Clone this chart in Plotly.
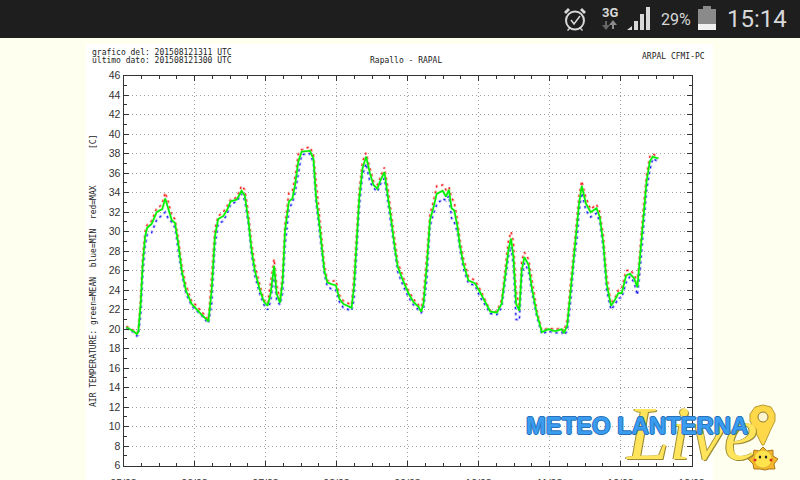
import plotly.graph_objects as go

hours = [1,3.3,4.5,5,5.8,6.5,7.3,8,9.5,11.2,
 12.3,13.1,14.1,15.2,16.3,17.4,18.5,19.7,21.1,23,
 24.7,26.4,28.7,29.8,30.9,32,33.7,35,36.2,38.3,
 39.9,41,42.2,43.3,44.4,46.1,47.5,48.7,49.7,50.9,
 51.8,52.9,53.8,54.6,55.9,57.1,58,59.1,60.2,63,
 64.2,65.1,66.2,67,67.9,68.9,70.4,71.8,73,74.3,
 76,77.1,77.9,78.8,79.7,80.8,82,83.3,84.5,85.8,
 86.9,88.2,89.3,90.5,91.6,92.7,94.6,96.3,98,99.7,
 100.6,101.4,102.5,103.6,104.7,105.9,107.9,109,110,110.9,
 111.8,112.9,113.7,114.9,116.6,118.8,120.5,122.2,124,126.2,
 127.8,129,130.1,131,131.8,132.7,133.8,134.6,135.5,136.9,
 138,139.7,141.4,143.6,145.9,148.1,148.9,150,151.2,152.3,
 153.4,154,154.9,156.3,157.9,159.9,161,162.2,163.3,164.8,
 166.1,167.3,168.4,169.9,171.2,172.6,173.7,174.6,175.7,176.8,
 177.9,178.9,180.8]
mean_t = [20.2,19.8,19.5,19.7,22.6,26.7,29.5,30.4,30.8,32,
 32.2,32.3,33.4,32.2,31.2,30.9,28.8,26,24,22.6,
 22.1,21.5,20.8,24,29.5,31.3,31.6,32.2,33.1,33.3,
 34.2,33.7,31.2,28.1,26,24,22.8,22.4,23.6,26.5,
 23.6,22.7,25,30.1,33.1,33.4,34.8,37.2,38.2,38.3,
 37.5,33.5,30.8,28.8,26,24.8,24.6,24.5,23.1,22.6,
 22.4,22.2,24.3,29.1,33.5,36.5,37.7,36,34.8,34.4,
 35.3,36.1,33.9,31.2,28.6,26.4,24.9,23.7,22.8,22.3,
 21.8,22.6,26.4,31.2,32.4,33.9,34.2,33.6,34.3,32.4,
 32.2,30.5,28.6,26.7,25,24.7,23.8,22.8,21.8,21.7,
 22.6,25.4,28.1,29.3,27.4,22.6,21.9,26,27.4,26.6,
 24.3,21.6,19.7,20,19.8,20,19.6,20.4,24,27.8,
 30.5,32.9,34.7,32.9,32,32.4,31.5,28.8,24.7,22.4,
 23,23.7,23.7,25.5,25.7,25.2,24.3,27.4,31.5,35.1,
 37.2,37.7,37.5]
max_t = [20.3,19.9,19.6,19.9,23.2,27.5,30,30.7,31.1,32.4,
 32.6,32.9,34,33,31.7,31.3,29.4,26.6,24.5,22.9,
 22.4,21.8,21,25.5,30.3,31.6,32,32.6,33.3,33.5,
 34.7,34.3,32,28.8,26.6,24.5,23,22.6,24.5,27.2,
 24.5,23,26,30.8,34,34.2,35.6,38,38.4,38.7,
 37.9,35,31.5,29.5,26.6,25,24.9,25,23.5,22.9,
 22.7,22.5,25.5,30,34.3,37.2,38.1,36.5,35.2,34.8,
 35.7,36.6,34.6,31.8,29.2,26.9,25.3,24,23.1,22.5,
 21.9,23.6,27.5,31.8,33,34.7,34.8,34.3,34.6,33.5,
 33,31.2,29.2,27.3,25.4,25,24.1,23,21.9,21.8,
 23,26.2,29,30,29,24,22.2,27,27.9,27.2,
 25,22,19.9,20.1,20,20.1,19.8,21,25,28.6,
 31.5,33.7,35.2,33.5,32.3,32.8,32,29.6,25.6,22.6,
 23.2,24,24.2,26,26.1,25.6,24.8,28.5,32.3,35.8,
 37.7,38,37.6]
min_t = [20.1,19.7,19.3,19.4,21.4,25.5,28.5,29.7,29.9,31.2,
 31.5,31.7,32,31.3,31,30.4,28.3,25.6,23.7,22.4,
 21.9,21.4,20.6,22.6,28.5,30.8,31.1,31.8,32.8,33.1,
 33.9,33.2,30.8,27.6,25.5,23.6,22.5,22,22.8,25.6,
 22.9,22.5,23.8,28.5,32.3,33,34,36,37.9,38,
 37.1,33,30.3,28.3,25.6,24.4,24.1,24,22.8,22.2,
 22,21.9,23,28,32.5,35.8,37,35.1,34.5,34.1,
 34.9,35.5,33.3,30.7,28.2,25.9,24.4,23.3,22.5,22,
 21.7,22,25,30.5,31.8,32.8,33.4,33.2,33.7,31.4,
 31,29.9,28.2,26.2,24.7,24.5,23.3,22.5,21.6,21.5,
 22.2,24.8,27.4,28.5,26.5,21,20.9,25.2,26.8,26,
 23.8,21.3,19.5,19.8,19.6,19.7,19.4,19.8,23,27,
 29.6,32,34,32.2,31.5,31.9,31,28.2,24,22,
 22.5,23.2,23.2,24.8,25.4,24.8,23.5,26,30.5,34.2,
 36.3,37.5,37.2]
day_ticks = [0,24,48,72,96,120,144,168,192]
day_labels = ["05/08","06/08","07/08","08/08","09/08","10/08","11/08","12/08","13/08"]
temp_ticks = list(range(6,47,2))

W,H = 800,480
X = lambda p: p/W
Y = lambda p: 1-p/H

fig = go.Figure()
for vals,col,pale in [(max_t,"#f01818","rgba(255,120,120,0.6)"),(min_t,"#1818f0","rgba(120,120,255,0.6)")]:
    fig.add_trace(go.Scatter(x=hours,y=vals,mode="lines",line=dict(color=pale,width=2.6,dash="3px,3px"),hoverinfo="skip"))
    fig.add_trace(go.Scatter(x=hours,y=vals,mode="lines",line=dict(color=col,width=1.1,dash="2px,4px"),hoverinfo="skip"))
fig.add_trace(go.Scatter(x=hours,y=mean_t,mode="lines",line=dict(color="rgba(120,255,120,0.5)",width=2.5),hoverinfo="skip"))
fig.add_trace(go.Scatter(x=hours,y=mean_t,mode="lines",line=dict(color="#00f000",width=1.6),hoverinfo="skip"))

axis_common = dict(showline=True,linecolor="#333333",linewidth=1,mirror="allticks",ticks="inside",
    tickcolor="#333333",tickwidth=1,ticklen=5,zeroline=False,showgrid=True,
    griddash="1px,3px",gridcolor="#a0a0a0",gridwidth=1,
    tickfont=dict(family="Liberation Sans",size=10.5,color="#333333"))
fig.update_xaxes(range=[0,192],domain=[X(123.5),X(691.5)],tickvals=day_ticks,ticktext=day_labels,automargin=False,
    ticklabelstandoff=8,minor=dict(dtick=6,tick0=0,ticks="inside",ticklen=3,tickcolor="#333333",showgrid=False),**axis_common)
fig.update_yaxes(range=[6,46],domain=[Y(465.7),Y(75.7)],tickvals=temp_ticks,automargin=False,
    minor=dict(dtick=1,tick0=0,ticks="inside",ticklen=3,tickcolor="#333333",showgrid=False),**axis_common)

shapes=[]
def rect(x0,y0,x1,y1,fill,layer="below"):
    shapes.append(dict(type="rect",xref="paper",yref="paper",x0=X(x0),x1=X(x1),y0=Y(y1),y1=Y(y0),fillcolor=fill,line_width=0,layer=layer))
def path(pts,fill,line=None,lw=0):
    d="M"+" L".join(f"{X(a):.5f},{Y(b):.5f}" for a,b in pts)+" Z"
    shapes.append(dict(type="path",xref="paper",yref="paper",path=d,fillcolor=fill,line=dict(color=line or fill,width=lw),layer="above"))
def circ(cx,cy,rx,ry,fill,line=None,lw=0):
    shapes.append(dict(type="circle",xref="paper",yref="paper",x0=X(cx-rx),x1=X(cx+rx),y0=Y(cy+ry),y1=Y(cy-ry),fillcolor=fill,line=dict(color=line or fill,width=lw),layer="above"))
rect(86,44,713,480,"#ffffff")
rect(0,0,800,38,"#1e1e1e","above")
# alarm clock
circ(575,20.5,9,9,"#1e1e1e","#d8d8d8",2)
path([(571,20),(574,24),(580,16),(574,24)],"#d8d8d8","#d8d8d8",1.5)
path([(564,12),(568,8),(570,10),(566,14)],"#d8d8d8")
path([(586,12),(582,8),(580,10),(584,14)],"#d8d8d8")
path([(567,30),(570,27),(571,28),(568,31)],"#d8d8d8")
path([(583,30),(580,27),(579,28),(582,31)],"#d8d8d8")
# data arrows
path([(602,25),(606,30),(610,25),(607,25),(607,21),(605,21),(605,25)],"#666666")
path([(609,25),(613,20),(617,25),(614,25),(614,29),(612,29),(612,25)],"#8a8a8a")
# signal
path([(627,30),(632,26),(632,30)],"#d8d8d8")
rect(634,21,638,30,"#d8d8d8","above"); rect(640,14,644,30,"#d8d8d8","above"); rect(646,7,650,30,"#d8d8d8","above")
# battery
rect(703,6,711,9,"#8a8a8a","above"); rect(698,9,716,24,"#8a8a8a","above"); rect(698,24,716,30,"#f0f0f0","above")
# pin
path([(763,405),(755,407),(750,414),(750,421),(754,429),(762,445),(764,445),(771,429),(775,421),(775,414),(771,407)],"#ffd84a","#b89a30",1)
circ(763,417,5,5,"#fff6cf","#8a7a30",1)
# sun
path([(763,447),(767,451),(773,450),(773,456),(778,459),(774,464),(775,469),(769,469),(765,470),(760,469),(754,469),(753,464),(748,459),(753,456),(754,450),(759,451)],"#f5b62c","#a87a1c",1)
circ(763,459,9,9,"#ffe34d","#c99a20",0.5)
circ(760,457,1.2,1.5,"#222222"); circ(766,457,1.2,1.5,"#222222")
circ(755,460,1.5,1.5,"#d83020"); circ(771,460,1.5,1.5,"#d83020")

mono="DejaVu Sans Mono"
def note(t,x,y,size=8,color="#222222",family=mono,xanchor="left",**k):
    return dict(text=t,xref="paper",yref="paper",x=X(x),y=Y(y),showarrow=False,xanchor=xanchor,yanchor="middle",
                font=dict(family=family,size=size,color=color,**k.pop("fk",{})),**k)
ann=[note("grafico del: 201508121311 UTC",90,53),
 note("ultimo dato: 201508121300 UTC",90,60),
 note("Rapallo - RAPAL",406,60,xanchor="center"),
 note("ARPAL CFMI-PC",640,56),
 note("[C]",93,142,xanchor="center",textangle=-90),
 note("AIR TEMPERATURE: green=MEAN  blue=MIN  red=MAX",93,296,xanchor="center",textangle=-90),
 note("3G",610,12,size=13,color="#d8d8d8",family="Roboto",xanchor="center",fk=dict(weight="bold")),
 note("29%",676,20,size=16,color="#d8d8d8",family="Roboto",xanchor="center"),
 note("15:14",757,19,size=24,color="#d8d8d8",family="Roboto",xanchor="center"),
 note("Live",692,433,size=76,color="#ffe45c",family="Liberation Serif",xanchor="center",
      fk=dict(style="italic",shadow="1px 1px #9a8a30, -1px 0 #9a8a30")),
 note("METEO LANTERNA",637,425,size=23.8,color="#3a9df0",family="Liberation Sans",xanchor="center",
      fk=dict(weight="bold",shadow="1px 0 #2a70b8, -1px 0 #2a70b8, 0 1px #2a70b8, 0 -1px #2a70b8")),
]
fig.update_layout(width=W,height=H,margin=dict(l=0,r=0,t=0,b=0,pad=0,autoexpand=False),autosize=False,showlegend=False,
    paper_bgcolor="#fffff0",plot_bgcolor="rgba(0,0,0,0)",shapes=shapes,annotations=ann)
fig.write_html("out.html",config=dict(displayModeBar=False),
    post_script="document.documentElement.style.margin='0';document.body.style.margin='0';document.body.style.overflow='hidden';")
